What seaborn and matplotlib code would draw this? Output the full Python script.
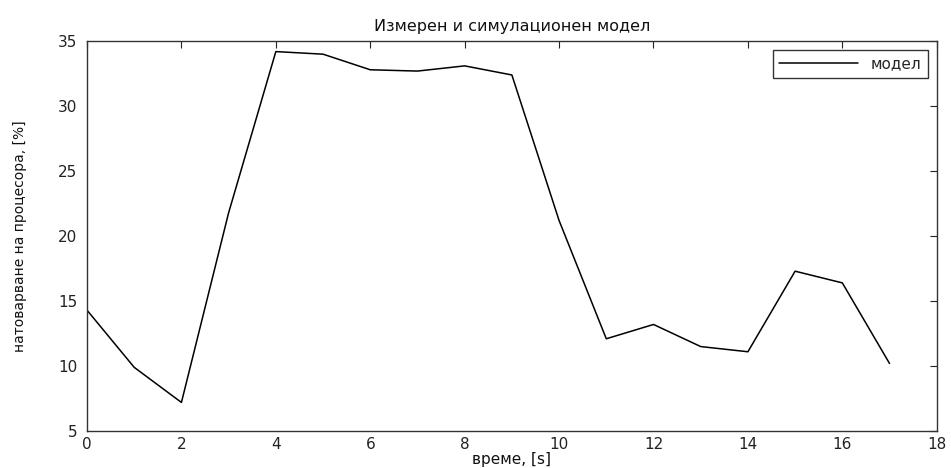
import matplotlib
matplotlib.use("Agg")
import matplotlib.pyplot as plt
import seaborn as sns
import pandas as pd

time_s = [0, 1, 2, 3, 4, 5, 6, 7, 8, 9, 10, 11, 12, 13, 14, 15, 16, 17]
load_pct = [14.3, 9.9, 7.2, 21.8, 34.2, 34.0, 32.8, 32.7, 33.1, 32.4,
            21.2, 12.1, 13.2, 11.5, 11.1, 17.3, 16.4, 10.2]
series_name = "модел"
title_text = "Измерен и симулационен модел"
xlabel_text = "време, [s]"
ylabel_text = "натоварване на процесора, [%]"
x_ticks = [0, 2, 4, 6, 8, 10, 12, 14, 16, 18]
y_ticks = [5, 10, 15, 20, 25, 30, 35]

df = pd.DataFrame({"t": time_s, "load": load_pct, "series": series_name})

sns.set_style("white")
plt.rcParams["font.family"] = ["DejaVu Sans"]

fig = plt.figure(figsize=(9.51, 4.68), dpi=100)
ax = fig.add_axes([0.0915, 0.079, 0.8935, 0.833])

sns.lineplot(data=df, x="t", y="load", hue="series", palette=["black"],
             linewidth=1.1, ax=ax)

ax.set_xlim(0, 18)
ax.set_ylim(5, 35)
ax.set_xticks(x_ticks)
ax.set_yticks(y_ticks)
ax.tick_params(direction="in", length=5, width=0.8, top=True, right=True,
               labelsize=11, colors="#222222", pad=4)
ax.tick_params(axis="y", pad=7)
for s in ax.spines.values():
    s.set_color("#333333")
    s.set_linewidth(1.0)
    s.set_visible(True)

ax.set_title(title_text, fontsize=11.5, pad=7, color="#111111")
ax.set_xlabel(xlabel_text, fontsize=11, labelpad=0, color="#111111")
ax.set_ylabel(ylabel_text, fontsize=10, labelpad=22, color="#111111")

leg = ax.legend(loc="upper right", fontsize=11, frameon=True, fancybox=False,
                handlelength=5.2, borderaxespad=0.6, borderpad=0.4,
                handletextpad=0.8)
leg.get_frame().set_edgecolor("black")
leg.get_frame().set_linewidth(1.0)
leg.set_title(None)

fig.savefig("out.png", dpi=100)
